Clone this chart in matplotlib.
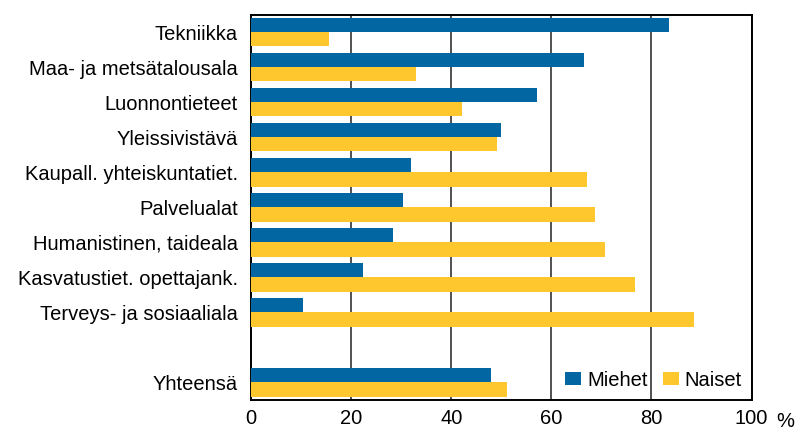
import matplotlib
matplotlib.use("Agg")
import matplotlib.pyplot as plt
import numpy as np

categories = ["Tekniikka", "Maa- ja metsätalousala", "Luonnontieteet", "Yleissivistävä",
              "Kaupall. yhteiskuntatiet.", "Palvelualat", "Humanistinen, taideala",
              "Kasvatustiet. opettajank.", "Terveys- ja sosiaaliala", "", "Yhteensä"]
miehet = [83.5, 66.5, 57.2, 49.9, 31.9, 30.3, 28.4, 22.3, 10.4, np.nan, 47.9]
naiset = [15.6, 32.9, 42.2, 49.2, 67.1, 68.8, 70.7, 76.7, 88.6, np.nan, 51.2]
xticks = [0, 20, 40, 60, 80, 100]
xticklabels = ["0", "20", "40", "60", "80", "100"]

blue = "#0266A2"
yellow = "#FFC72E"
fs = 14.5

plt.rcParams['font.family'] = ['Liberation Sans', 'DejaVu Sans']
fig = plt.figure(figsize=(7.98, 4.32), dpi=100)
ax = fig.add_axes([251/798, 1 - 400/432, (751.5 - 251)/798, (400 - 14.7)/432])

y = np.arange(len(categories))
h = 0.405
ax.barh(y - h/2, miehet, height=h, color=blue, label="Miehet", zorder=3)
ax.barh(y + h/2, naiset, height=h, color=yellow, label="Naiset", zorder=3)

ax.set_xlim(0, 100)
ax.set_ylim(len(categories) - 0.5, -0.5)
ax.set_yticks(y)
ax.set_yticklabels(categories, fontsize=fs)
ax.set_xticks(xticks)
ax.set_xticklabels(xticklabels, fontsize=fs)
ax.tick_params(axis='y', length=0, pad=9.6)
ax.tick_params(axis='x', length=0, pad=6.5)
ax.grid(axis='x', color='#333333', linewidth=1.2, zorder=1)
for s in ax.spines.values():
    s.set_linewidth(1.4)
    s.set_color('black')

fig.text(785/798, 1 - 427.3/432, "%", fontsize=fs, ha='center', va='baseline')

leg = ax.legend(loc='center right', ncol=2, frameon=False, fontsize=fs,
                handlelength=0.8, handleheight=0.58, handletextpad=0.3,
                columnspacing=0.75, borderpad=0, borderaxespad=0,
                bbox_to_anchor=((742 - 251)/500.5, (400 - 380)/385.3))

fig.savefig("out.png", dpi=100)
